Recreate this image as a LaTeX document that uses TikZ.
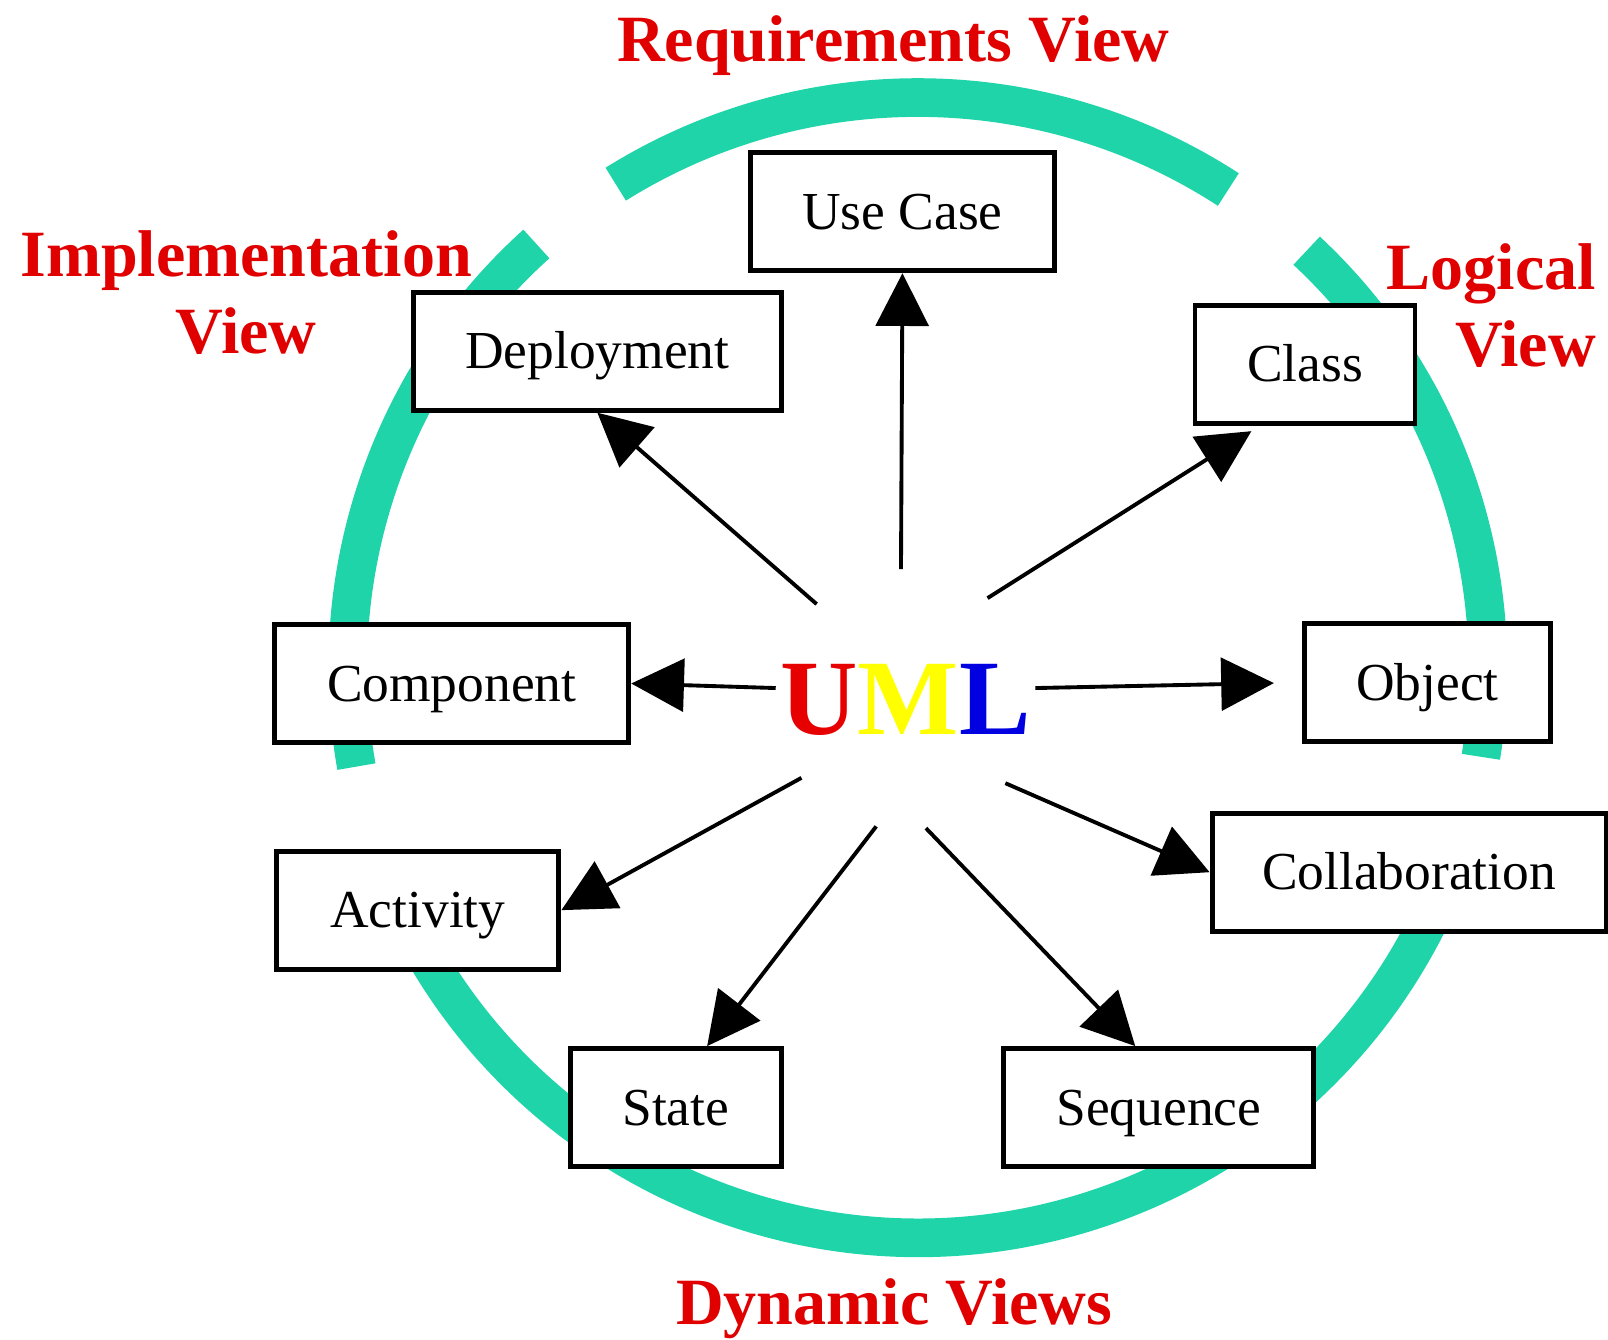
\documentclass[tikz,border=0pt]{standalone}
\usepackage{fontspec}
\setmainfont{Liberation Serif}
\usepackage{xcolor}
\usepackage{tikz}
\usetikzlibrary{positioning,calc,arrows.meta}

\definecolor{ringteal}{RGB}{30,212,168}
\definecolor{viewred}{RGB}{224,0,0}
\definecolor{umlred}{RGB}{230,0,0}
\definecolor{umlyellow}{RGB}{255,255,0}
\definecolor{umlblue}{RGB}{0,0,225}

\begin{document}
\begin{tikzpicture}[x=0.010255cm,y=-0.010255cm,
		box/.style={draw=black,line width=1.4pt,fill=white,inner sep=0pt,minimum height=1.18cm,
			font=\fontsize{15.2}{18}\selectfont,text height=10pt,text depth=0pt},
		ring/.style={draw=ringteal,line width=11pt},
		link/.style={line width=1.1pt,-{Triangle[length=15pt,width=15pt]}},
		viewlabel/.style={text=viewred,inner sep=0pt,font=\fontsize{18.8}{22}\selectfont\bfseries}]
		
		\useasboundingbox (0,0) rectangle (1568,1306);
		
		% the four view arcs
		\coordinate (hub) at (895,651);
		\draw[ring] (hub) ++(57:5.70cm) arc[start angle=57,end angle=122,radius=5.70cm];
		\draw[ring] (hub) ++(132:5.70cm) arc[start angle=132,end angle=190,radius=5.70cm];
		\draw[ring] (hub) ++(-9:5.70cm) arc[start angle=-9,end angle=47,radius=5.70cm];
		\draw[ring] (hub) ++(203:5.70cm) arc[start angle=203,end angle=340,radius=5.70cm];
		
		% diagrams
		\node[box,minimum width=3.04cm] (usecase) at (880,206.5) {Use Case};
		\node[box,minimum width=3.68cm] (deploy) at (582.5,342.5) {Deployment};
		\node[box,minimum width=2.20cm] (class) at (1272.5,355) {Class};
		\node[box,minimum width=3.54cm] (comp) at (440.5,666.5) {Component};
		\node[box,minimum width=2.46cm] (object) at (1392,665.5) {Object};
		\node[box,minimum width=3.94cm] (collab) at (1374,850.5) {Collaboration};
		\node[box,minimum width=2.82cm] (activity) at (407.5,887.5) {Activity};
		\node[box,minimum width=2.11cm] (state) at (659,1080) {State};
		\node[box,minimum width=3.10cm] (seq) at (1130,1080) {Sequence};
		
		\node[circle,minimum size=2.46cm,inner sep=0pt,font=\fontsize{30.5}{34}\selectfont\bfseries,
		text height=20.2pt,text depth=0pt] (uml) at (883,682)
		{\textcolor{umlred}{U}\textcolor{umlyellow}{M}\textcolor{umlblue}{L}};
		
		\draw[link] (uml.92) -- (usecase.south);
		\draw[link] (uml.133) -- (deploy.south);
		\draw[link,shorten >=3pt] (uml.51) -- (class.234);
		\draw[link] (uml.175) -- (comp.east);
		\draw[link,shorten >=8pt] (uml.5) -- (object.west);
		\draw[link] (uml.-40) -- (collab.west);
		\draw[link] (uml.217) -- (activity.east);
		\draw[link] (uml.257) -- (state.63);
		\draw[link] (uml.279) -- (seq.111);
		
		% view names
		\node[viewlabel,anchor=base] (reqview) at (871,60) {Requirements View};
		\node[viewlabel,align=center] (implview) at (240,285.5) {Implementation\\View};
		\node[viewlabel,align=right,anchor=east] (logview) at (1557,298) {Logical\\View};
		\node[viewlabel,anchor=base] (dynview) at (872,1292) {Dynamic Views};
	\end{tikzpicture}
\end{document}
